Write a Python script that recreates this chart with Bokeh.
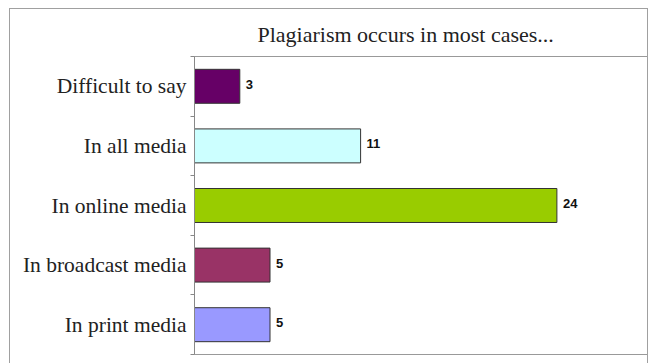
from bokeh.plotting import figure
from bokeh.models import FixedTicker, ColumnDataSource, Range1d
from bokeh.core.properties import value
from bokeh.embed import file_html
from bokeh.resources import INLINE

title = "Plagiarism occurs in most cases..."
categories = ["In print media", "In broadcast media", "In online media", "In all media", "Difficult to say"]
values = [5, 5, 24, 11, 3]
colors = ["#9999FF", "#993366", "#99CC00", "#CCFFFF", "#660066"]

ypos = [i + 0.5 for i in range(len(categories))]
src = ColumnDataSource(dict(y=ypos, v=values, c=colors, t=[str(v) for v in values]))

p = figure(width=639, height=360, output_backend="svg", toolbar_location=None,
           x_range=Range1d(0, 30), y_range=Range1d(0, len(categories)),
           min_border_left=184, min_border_right=2, min_border_top=47, min_border_bottom=15)
p.margin = (8, 0, 0, 9)
p.styles = {"border-left": "1.5px solid #a0a0a0", "border-top": "1.5px solid #a0a0a0",
            "border-right": "1.5px solid #a0a0a0", "border-bottom": "1.5px solid #a0a0a0"}
p.title.text = title
p.title.align = "left"
p.title.offset = 63
p.title.text_font = "Liberation Serif, serif"
p.title.text_font_size = "22px"
p.title.text_font_style = "normal"
p.title.text_color = "#222222"
p.title.standoff = 19
p.background_fill_color = "white"
p.border_fill_color = "white"
p.outline_line_color = "#999999"
p.grid.visible = False
p.xaxis.visible = False

p.hbar(y="y", right="v", left=0, height=0.57, fill_color="c", line_color="#333333",
       line_width=1, source=src)
p.text(x="v", y="y", text="t", x_offset=6, y_offset=-2, text_font=value("Liberation Sans"),
       text_font_style="bold", text_font_size="13px", text_baseline="middle",
       text_color="#111111", source=src)

yax = p.yaxis[0]
yax.ticker = FixedTicker(ticks=ypos, minor_ticks=list(range(len(categories) + 1)))
yax.major_label_overrides = {y: c for y, c in zip(ypos, categories)}
yax.major_tick_line_color = None
yax.minor_tick_line_color = "#888888"
yax.minor_tick_out = 4
yax.minor_tick_in = 0
yax.axis_line_color = "#888888"
yax.major_label_text_font = "Liberation Serif"
yax.major_label_text_font_size = "21.5px"
yax.major_label_text_color = "#222222"
yax.major_label_standoff = 2

open("out.html", "w").write(file_html(p, INLINE))
